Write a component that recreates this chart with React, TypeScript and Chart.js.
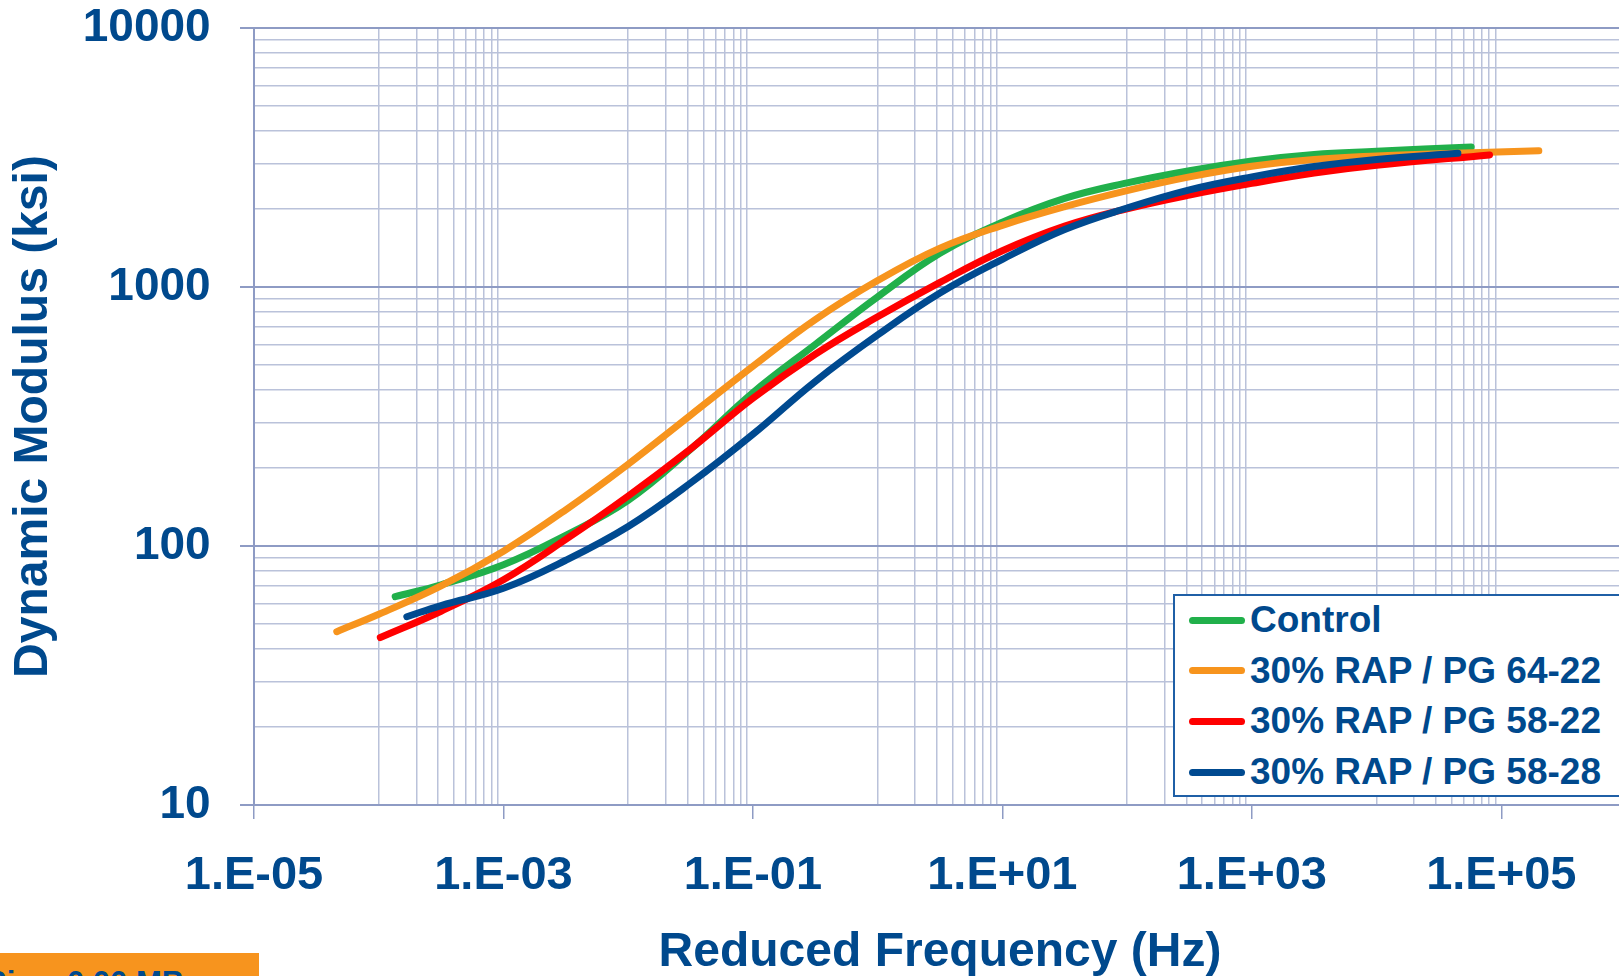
import { useEffect, useRef } from 'react';
import { Chart, registerables } from 'chart.js';

Chart.register(...registerables);

// ---------------- data ----------------
const seriesNames = ['Control', '30% RAP / PG 64-22', '30% RAP / PG 58-22', '30% RAP / PG 58-28'];
const seriesColors = ['#21b04b', '#f7941d', '#ff0000', '#004a90'];

const controlFreq = [1.355e-4, 3.16e-4, 1e-3, 3.16e-3, 1e-2, 3.16e-2, 0.1, 0.316, 1, 3.16, 10, 31.6, 100, 316, 1000, 3160, 1e4, 5.74e4];
const controlModulus = [63.7, 70.8, 84.7, 110, 150, 236, 391, 600, 916, 1349, 1778, 2198, 2523, 2812, 3069, 3251, 3342, 3475];

const rap6422Freq = [4.61e-5, 1e-4, 3.16e-4, 1e-3, 3.16e-3, 1e-2, 3.16e-2, 0.1, 0.316, 1, 3.16, 10, 31.6, 100, 316, 1000, 3160, 1e4, 3.16e4, 2e5];
const rap6422Modulus = [46.7, 54.5, 70.1, 95.5, 138, 207, 320, 494, 748, 1059, 1413, 1730, 2042, 2355, 2661, 2924, 3105, 3206, 3273, 3357];

const rap5822Freq = [1.03e-4, 3.16e-4, 1e-3, 3.16e-3, 1e-2, 3.16e-2, 0.1, 0.316, 1, 3.16, 10, 31.6, 100, 316, 1000, 3160, 1e4, 8.05e4];
const rap5822Modulus = [44.3, 56.0, 74.1, 106, 156, 237, 372, 550, 767, 1042, 1380, 1718, 2004, 2265, 2512, 2754, 2951, 3236];

const rap5828Freq = [1.68e-4, 3.16e-4, 1e-3, 3.16e-3, 1e-2, 3.16e-2, 0.1, 0.316, 1, 3.16, 10, 31.6, 100, 316, 1000, 3160, 1e4, 4.49e4];
const rap5828Modulus = [53.3, 58.9, 68.7, 88.1, 119, 175, 270, 432, 653, 948, 1279, 1667, 2018, 2371, 2661, 2917, 3105, 3281];

const xMajorTicks = [1e-5, 1e-3, 1e-1, 1e1, 1e3, 1e5];
const xTickLabels = ['1.E-05', '1.E-03', '1.E-01', '1.E+01', '1.E+03', '1.E+05'];
const yMajorTicks = [10, 100, 1000, 10000];
const yTickLabels = ['10', '100', '1000', '10000'];

const xTitle = 'Reduced Frequency (Hz)';
const yTitle = 'Dynamic Modulus (ksi)';

// ---------------- style ----------------
const textColor = '#00498d';
const axisColor = '#8e9bc4';
const gridColor = '#bac2da';
const fontFamily = "'Liberation Sans', Arial, Helvetica, sans-serif";

const near = (a: number, b: number) => Math.abs(a - b) <= Math.abs(b) * 1e-6;
const majorIndex = (list: number[], v: number) => list.findIndex((m) => near(v, m));

// x minor gridlines: 1..9 x 10^k for k = -4, -2, 0, 2, 4 (Excel log base-100 style)
function xMinorValues() {
  const out: number[] = [];
  for (let k = -4; k <= 4; k += 2) for (let m = 1; m <= 9; m++) out.push(m * Math.pow(10, k));
  return out;
}
// y minor gridlines: 2..9 x 10^k
function yMinorValues() {
  const out: number[] = [];
  for (let k = 1; k <= 3; k++) for (let m = 2; m <= 9; m++) out.push(m * Math.pow(10, k));
  return out;
}

const pts = (xs: number[], ys: number[]) => xs.map((x, i) => ({ x, y: ys[i] }));

export default function App() {
  const ref = useRef<HTMLCanvasElement>(null);

  useEffect(() => {
    const canvas = ref.current;
    if (!canvas) return;
    const xTicks = [...xMajorTicks, ...xMinorValues()].sort((a, b) => a - b);
    const yTicks = [...yMajorTicks, ...yMinorValues()].sort((a, b) => a - b);
    const allData = [
      pts(controlFreq, controlModulus),
      pts(rap6422Freq, rap6422Modulus),
      pts(rap5822Freq, rap5822Modulus),
      pts(rap5828Freq, rap5828Modulus),
    ];
    const orders = [4, 3, 2, 1];

    const chart = new Chart(canvas, {
      type: 'line',
      data: {
        datasets: allData.map((d, i) => ({
          label: seriesNames[i],
          data: d,
          borderColor: seriesColors[i],
          backgroundColor: seriesColors[i],
          borderWidth: 7,
          borderCapStyle: 'round',
          borderJoinStyle: 'round',
          pointRadius: 0,
          pointHoverRadius: 0,
          fill: false,
          tension: 0.4,
          order: orders[i],
        })),
      },
      options: {
        responsive: false,
        animation: false,
        devicePixelRatio: 1,
        events: [],
        layout: { padding: { left: 0, right: 14, top: 28, bottom: 0 } },
        plugins: {
          legend: { display: false },
          tooltip: { enabled: false },
        },
        scales: {
          x: {
            type: 'logarithmic',
            min: 1e-5,
            max: 1e6,
            afterBuildTicks: (scale: any) => {
              scale.ticks = xTicks.map((v) => ({ value: v }));
            },
            afterFit: (scale: any) => {
              scale.height = 171;
              scale.paddingLeft = 0;
              scale.paddingRight = 0;
            },
            border: { display: true, color: axisColor, width: 2 },
            grid: {
              drawTicks: true,
              tickLength: 14,
              lineWidth: 1.5,
              tickWidth: 1.5,
              color: (ctx: any) => {
                const v = ctx.tick ? ctx.tick.value : 0;
                return majorIndex(xMajorTicks, v) >= 0 ? 'rgba(0,0,0,0)' : gridColor;
              },
              tickColor: (ctx: any) => {
                const v = ctx.tick ? ctx.tick.value : 0;
                return majorIndex(xMajorTicks, v) >= 0 ? axisColor : 'rgba(0,0,0,0)';
              },
            },
            ticks: {
              autoSkip: false,
              maxRotation: 0,
              minRotation: 0,
              padding: 28.8,
              color: textColor,
              font: { family: fontFamily, size: 47, weight: 'bold' },
              callback: (value: any) => {
                const i = majorIndex(xMajorTicks, Number(value));
                return i >= 0 ? xTickLabels[i] : '';
              },
            },
            title: {
              display: true,
              text: xTitle,
              color: textColor,
              font: { family: fontFamily, size: 48, weight: 'bold' },
              padding: { top: 0, bottom: -6 },
            },
          },
          y: {
            type: 'logarithmic',
            min: 10,
            max: 10000,
            afterBuildTicks: (scale: any) => {
              scale.ticks = yTicks.map((v) => ({ value: v }));
            },
            afterFit: (scale: any) => {
              scale.width = 254;
              scale.paddingTop = 0;
              scale.paddingBottom = 0;
            },
            border: { display: true, color: axisColor, width: 2 },
            grid: {
              drawTicks: true,
              tickLength: 14,
              lineWidth: (ctx: any) => {
                const v = ctx.tick ? ctx.tick.value : 0;
                return majorIndex(yMajorTicks, v) >= 0 ? 2 : 1.5;
              },
              tickWidth: 2,
              color: (ctx: any) => {
                const v = ctx.tick ? ctx.tick.value : 0;
                if (near(v, 10)) return 'rgba(0,0,0,0)';
                return majorIndex(yMajorTicks, v) >= 0 ? axisColor : gridColor;
              },
              tickColor: (ctx: any) => {
                const v = ctx.tick ? ctx.tick.value : 0;
                return majorIndex(yMajorTicks, v) >= 0 ? axisColor : 'rgba(0,0,0,0)';
              },
            },
            ticks: {
              autoSkip: false,
              padding: 29.3,
              color: textColor,
              font: { family: fontFamily, size: 46, weight: 'bold' },
              callback: (value: any) => {
                const i = majorIndex(yMajorTicks, Number(value));
                return i >= 0 ? yTickLabels[i] : '';
              },
            },
            title: {
              display: true,
              text: yTitle,
              color: textColor,
              font: { family: fontFamily, size: 48, weight: 'bold' },
              padding: { top: 5, bottom: 0 },
            },
          },
        },
      } as any,
    });
    return () => chart.destroy();
  }, []);

  return (
    <div
      style={{
        position: 'fixed',
        left: 0,
        top: 0,
        width: '100vw',
        height: '100vh',
        overflow: 'hidden',
        background: '#ffffff',
      }}
    >
      <canvas
        ref={ref}
        width={1640}
        height={976}
        style={{ position: 'absolute', left: 0, top: 0, width: 1640, height: 976 }}
      />
      {/* legend */}
      <div
        style={{
          position: 'absolute',
          left: 1173,
          top: 594,
          width: 520,
          height: 199,
          border: '2px solid #1f5fa6',
          background: '#ffffff',
          boxSizing: 'content-box',
        }}
      >
        {seriesNames.map((name, i) => (
          <div
            key={name}
            style={{
              position: 'absolute',
              left: 14,
              top: 4 + i * 50.7,
              height: 40,
              display: 'flex',
              alignItems: 'center',
              whiteSpace: 'nowrap',
            }}
          >
            <span
              style={{
                display: 'inline-block',
                width: 56,
                height: 7,
                borderRadius: 3.5,
                background: seriesColors[i],
                marginRight: 5,
              }}
            />
            <span
              style={{
                fontFamily,
                fontWeight: 'bold',
                fontSize: 37,
                lineHeight: '40px',
                color: textColor,
              }}
            >
              {name}
            </span>
          </div>
        ))}
      </div>
      {/* cropped note box at bottom-left */}
      <div
        style={{
          position: 'absolute',
          left: 0,
          top: 953,
          width: 259,
          height: 30,
          background: '#f7941e',
          overflow: 'hidden',
        }}
      >
        <span
          style={{
            position: 'absolute',
            left: -14,
            top: 12,
            fontFamily,
            fontWeight: 'bold',
            fontSize: 31,
            lineHeight: '36px',
            color: textColor,
            whiteSpace: 'nowrap',
          }}
        >
          Size: 0.00 MB
        </span>
      </div>
    </div>
  );
}
